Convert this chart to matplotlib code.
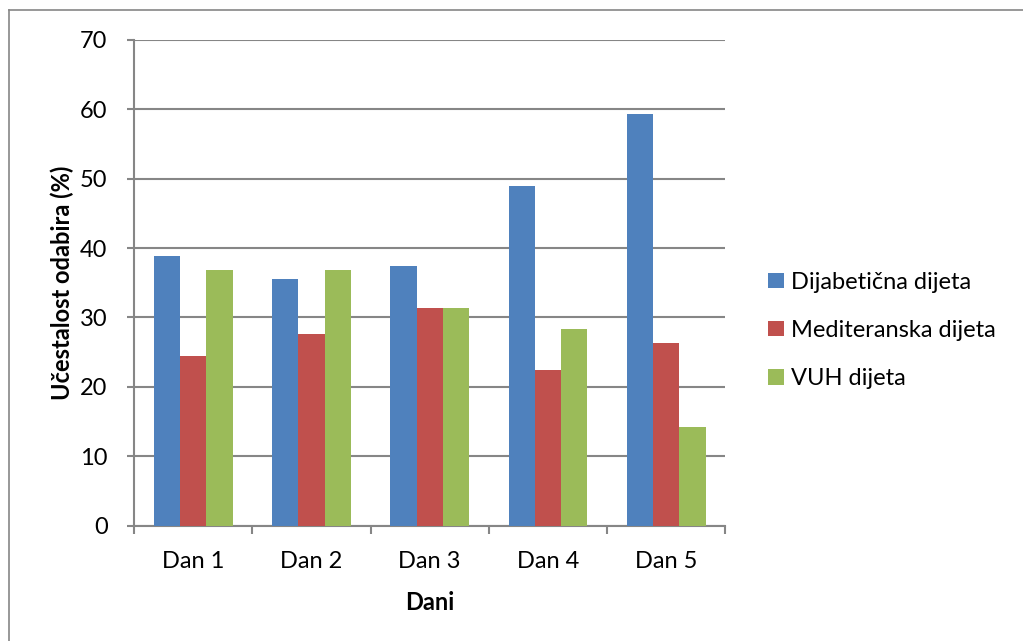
import matplotlib
matplotlib.use('Agg')
import matplotlib.pyplot as plt
from matplotlib.lines import Line2D
import numpy as np

# data
dani = ['Dan 1', 'Dan 2', 'Dan 3', 'Dan 4', 'Dan 5']
dijabeticna = [38.9, 35.6, 37.4, 49.0, 59.4]
mediteranska = [24.4, 27.6, 31.3, 22.5, 26.3]
vuh = [36.8, 36.8, 31.3, 28.4, 14.2]
serije = ['Dijabetična dijeta', 'Mediteranska dijeta', 'VUH dijeta']
boje = ['#4F81BD', '#C0504D', '#9BBB59']

plt.rcParams['font.family'] = ['Lato', 'DejaVu Sans']
siva = '#868686'
fs = 17

fig = plt.figure(figsize=(10.23, 6.41), dpi=100)
ax = fig.add_axes([0.131, 0.180, 0.578, 0.7576])

x = np.arange(len(dani))
w = 0.222
for i, (vals, ime, c) in enumerate(zip([dijabeticna, mediteranska, vuh], serije, boje)):
    ax.bar(x + (i - 1) * w, vals, width=w, color=c, label=ime, zorder=3)

ax.set_xlim(-0.5, len(dani) - 0.5)
ax.set_ylim(0, 70)
ax.set_yticks(range(0, 71, 10))
ax.yaxis.grid(True, color=siva, linewidth=1.5, zorder=0)
for s in ['top', 'right']:
    ax.spines[s].set_visible(False)
for s in ['left', 'bottom']:
    ax.spines[s].set_color(siva)
    ax.spines[s].set_linewidth(1.5)

# category boundaries as major ticks, labels on minor ticks
ax.set_xticks(np.arange(-0.5, len(dani)))
ax.set_xticklabels([])
ax.set_xticks(x, minor=True)
ax.set_xticklabels(dani, minor=True)
ax.tick_params(axis='x', which='major', length=6, width=1.5, color=siva)
ax.tick_params(axis='x', which='minor', length=0, pad=18, labelsize=fs)
ax.tick_params(axis='y', length=5, width=1.5, color=siva, pad=14, labelsize=fs)

ax.set_xlabel('Dani', fontsize=fs, fontweight='bold', labelpad=14)
ax.set_ylabel('Učestalost odabira (%)', fontsize=fs, fontweight='bold')
ax.yaxis.set_label_coords(-0.101, 0.5)

ax.legend(loc='center left', bbox_to_anchor=(1.073, 0.402), frameon=False, fontsize=fs,
          borderaxespad=0, borderpad=0,
          handlelength=0.65, handleheight=0.65, handletextpad=0.3, labelspacing=1.15)

# outer chart border
fig.add_artist(Line2D([9 / 1023, 9 / 1023], [0, 1 - 10 / 641], color=siva, linewidth=1.2))
fig.add_artist(Line2D([9 / 1023, 1], [1 - 10 / 641, 1 - 10 / 641], color=siva, linewidth=1.2))

fig.savefig('out.png', dpi=100)
